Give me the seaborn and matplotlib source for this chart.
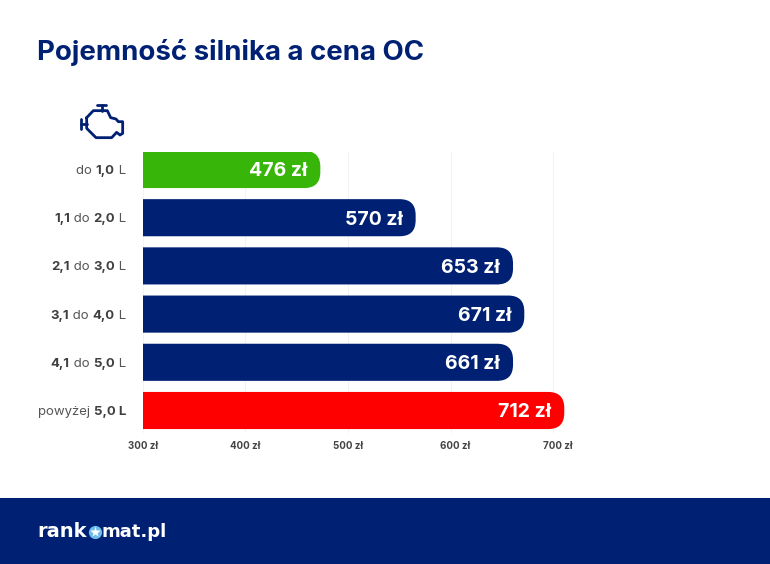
import matplotlib
matplotlib.use('Agg')
import matplotlib.pyplot as plt
from matplotlib.patches import FancyBboxPatch, Rectangle
from matplotlib.transforms import IdentityTransform, ScaledTranslation
import pandas as pd
import seaborn as sns

# Data
categories = ['do 1,0 L', '1,1 do 2,0 L', '2,1 do 3,0 L', '3,1 do 4,0 L', '4,1 do 5,0 L', 'powyżej 5,0 L']
bar_lengths = [473, 566, 661, 672, 661, 711]
price_labels = ['476 zł', '570 zł', '653 zł', '671 zł', '661 zł', '712 zł']
label_runs = [
    [('do ', False), ('1,0', True), (' L', False)],
    [('1,1', True), (' do ', False), ('2,0', True), (' L', False)],
    [('2,1', True), (' do ', False), ('3,0', True), (' L', False)],
    [('3,1', True), (' do ', False), ('4,0', True), (' L', False)],
    [('4,1', True), (' do ', False), ('5,0', True), (' L', False)],
    [('powyżej ', False), ('5,0 L', True)],
]
ticks = [300, 400, 500, 600, 700]
tick_labels = ['300 zł', '400 zł', '500 zł', '600 zł', '700 zł']

NAVY = '#002173'
GREEN = '#38B509'
RED = '#FF0000'
bar_colors = [GREEN, NAVY, NAVY, NAVY, NAVY, RED]
W, H = 770, 564

sns.set_theme(style='white')
plt.rcParams['font.family'] = ['Inter', 'DejaVu Sans']

df = pd.DataFrame({'kategoria': categories, 'cena': bar_lengths})

fig = plt.figure(figsize=(W / 100, H / 100), dpi=100, facecolor='white')
ax = fig.add_axes([143 / W, 1 - 433 / H, 432 / W, 281 / H])

sns.barplot(data=df, x='cena', y='kategoria', hue='kategoria', palette=bar_colors,
            legend=False, width=0.77, ax=ax, zorder=3)

xmax = 300 + 432 / 1.025
ax.set_xlim(300, xmax)
ax.set_ylim(5 + 22.5 / 48.2, -17.5 / 48.2)

# rounded right ends, built on the bars seaborn drew
sx = (xmax - 300) / 432
sy = 1 / 48.2
r = 16
for bar, color in zip(list(ax.patches), bar_colors):
    x0, y0, w, h = bar.get_x(), bar.get_y(), bar.get_width(), bar.get_height()
    bar.set_visible(False)
    ax.add_patch(FancyBboxPatch((x0 - 30, y0), w + 30, h,
                                boxstyle=f'round,pad=0,rounding_size={r * sx}',
                                mutation_aspect=sy / sx, facecolor=color,
                                edgecolor='none', zorder=3))

for i, (val, txt) in enumerate(zip(bar_lengths, price_labels)):
    ax.text(val - 13 * sx, i, txt, color='white', fontsize=14, fontweight='bold',
            ha='right', va='center_baseline', zorder=4)

ax.set_xticks(ticks)
ax.set_xticklabels(tick_labels, fontsize=7, fontweight='bold', color='#444444')
ax.tick_params(axis='x', length=0, pad=6)
# the last two labels sit a little right of their grid lines
for lab, dx in zip(ax.get_xticklabels(), [0, 0, 0, 5, 5]):
    lab.set_transform(lab.get_transform() + ScaledTranslation(dx / 100, 0, fig.dpi_scale_trans))
ax.set_yticks([])
ax.set_xlabel('')
ax.set_ylabel('')
ax.xaxis.grid(True, color='#F3F3F3', linewidth=0.8, zorder=0)
ax.set_axisbelow(True)
sns.despine(ax=ax, left=True, bottom=True, top=True, right=True)

# category labels with mixed weights, placed right to left
fig.canvas.draw()
renderer = fig.canvas.get_renderer()
for i, runs in enumerate(label_runs):
    ypx = H - ax.transData.transform((300, i))[1]
    xr = 126
    for txt, bold in reversed(runs):
        t = fig.text(xr / W, 1 - ypx / H, txt.replace(' ', '\u00a0'), fontsize=9.5,
                     fontweight='bold' if bold else 'normal', color='#3F3F3F' if bold else '#555555',
                     ha='right', va='center_baseline')
        xr -= t.get_window_extent(renderer).width

# footer and logo
fig.patches.append(Rectangle((0, 0), 1, 66 / H, transform=fig.transFigure, facecolor=NAVY, edgecolor='none'))
fig.text(37 / W, 1 - 537 / H, 'rank', color='white', fontsize=14, fontweight='bold', family='DejaVu Sans',
         ha='left', va='baseline')
fig.text(102 / W, 1 - 537 / H, 'mat.pl', color='white', fontsize=13, fontweight='bold', family='DejaVu Sans',
         ha='left', va='baseline')
fig.add_artist(plt.Line2D([94.5 / W], [1 - 531.5 / H], marker='o', markersize=9.5, color='#6FBDEB',
                          markeredgecolor='none', transform=fig.transFigure))
fig.add_artist(plt.Line2D([94.5 / W], [1 - 531.5 / H], marker='*', markersize=8, color='white',
                          markeredgecolor='none', transform=fig.transFigure))

# title
fig.text(37 / W, 1 - 60 / H, 'Pojemność silnika a cena OC', color=NAVY, fontsize=19.9, fontweight='bold',
         ha='left', va='baseline')

# engine icon, points taken from a 3x crop at (70, 95)
outline = [(50, 68), (70, 47), (112, 47), (122, 68), (138, 72), (145, 80), (158, 80), (158, 115), (150, 120),
           (140, 112), (125, 128), (78, 128), (50, 100), (50, 68)]
strokes = [outline, [(82, 30), (108, 30)], [(95, 30), (95, 47)], [(33, 72), (33, 102)], [(33, 87), (50, 87)]]
for s in strokes:
    xs = [70 + p[0] / 3 for p in s]
    ys = [H - (95 + p[1] / 3) for p in s]
    fig.add_artist(plt.Line2D(xs, ys, color=NAVY, linewidth=2, transform=IdentityTransform(),
                              solid_joinstyle='round', solid_capstyle='round'))

fig.savefig('out.png', dpi=100, facecolor='white')
